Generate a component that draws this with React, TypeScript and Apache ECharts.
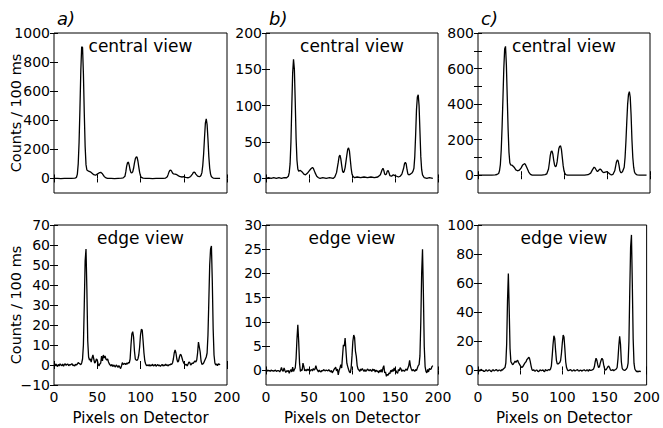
import React, { useEffect, useRef } from "react";
import * as echarts from "echarts";

// ---------- data ----------
const panelLetters = ["a)", "b)", "c)"];
const topTitle = "central view";
const bottomTitle = "edge view";
const yAxisTitle = "Counts / 100 ms";
const xAxisTitle = "Pixels on Detector";

const xTicks = [0, 50, 100, 150, 200];

const centralA: number[][] = [
  [0,0],[4,1],[8,-1],[12,0],[16,1],[20,0],[24,2],[25,4],[26,8],[27,30],[28,100],[29,250],[30,480],[31,740],[32,905],[33,900],[34,720],[35,450],[36,220],[37,95],[38,58],[40,50],[42,46],[44,36],[46,26],[48,22],[50,30],[52,38],[54,42],[56,32],[58,14],[60,4],[62,1],[66,0],[70,-1],[74,1],[78,2],[80,4],[82,15],[83,45],[84,85],[85,108],[86,112],[87,90],[88,58],[89,40],[90,38],[91,45],[92,70],[93,105],[94,135],[95,148],[96,146],[97,120],[98,80],[99,42],[100,18],[101,7],[103,2],[106,0],[110,1],[114,-1],[118,0],[122,1],[126,0],[129,3],[131,12],[132,28],[133,45],[134,55],[135,57],[136,50],[137,38],[138,32],[140,30],[142,26],[144,18],[146,12],[148,10],[150,12],[152,8],[154,5],[156,6],[158,14],[160,30],[161,40],[162,43],[163,40],[164,30],[166,16],[168,12],[169,14],[170,22],[171,40],[172,90],[173,170],[174,280],[175,380],[176,409],[177,370],[178,270],[179,150],[180,70],[181,30],[182,12],[184,3],[187,0],[192,0]
];

const centralB: number[][] = [
  [0,0],[3,1],[6,0],[9,1],[12,0],[15,1],[18,0],[21,1],[24,1],[26,3],[27,8],[28,20],[29,50],[30,100],[31,145],[32,164],[33,150],[34,105],[35,55],[36,25],[37,13],[38,10],[40,11],[42,9],[44,6],[46,5],[48,7],[50,10],[52,13],[54,15],[55,14],[57,8],[59,3],[61,1],[63,0],[66,1],[70,0],[74,1],[78,0],[80,2],[82,8],[84,22],[85,30],[86,32],[87,27],[88,18],[89,10],[90,8],[91,10],[92,15],[94,32],[95,40],[96,42],[97,38],[98,26],[99,14],[100,6],[101,3],[103,1],[106,2],[110,1],[114,2],[118,1],[122,2],[126,1],[130,2],[133,5],[135,12],[136,14],[137,11],[138,6],[139,5],[140,6],[141,10],[142,11],[143,8],[144,4],[146,3],[148,5],[150,4],[152,3],[154,2],[156,3],[158,6],[160,14],[161,20],[162,22],[163,20],[164,12],[165,6],[166,5],[168,6],[170,8],[171,10],[172,14],[173,30],[174,60],[175,95],[176,112],[177,115],[178,100],[179,65],[180,30],[181,12],[182,5],[184,1],[187,0],[190,1],[194,0]
];

const centralC: number[][] = [
  [0,0],[4,1],[8,0],[12,1],[16,0],[20,2],[22,4],[24,10],[25,25],[26,60],[27,140],[28,270],[29,430],[30,600],[31,710],[32,725],[33,620],[34,440],[35,260],[36,130],[37,70],[38,58],[40,55],[42,45],[44,30],[46,25],[48,28],[50,40],[52,58],[54,65],[55,62],[57,40],[59,18],[61,5],[63,1],[66,0],[70,1],[74,0],[78,3],[80,8],[82,35],[83,70],[84,110],[85,132],[86,137],[87,120],[88,85],[89,58],[90,48],[91,52],[92,75],[93,115],[94,150],[95,163],[96,165],[97,145],[98,100],[99,55],[100,25],[101,10],[102,4],[104,1],[108,0],[112,1],[116,0],[120,1],[124,0],[128,3],[131,12],[133,30],[135,45],[136,42],[138,25],[139,20],[140,26],[142,35],[143,32],[145,18],[146,15],[148,18],[150,20],[152,12],[154,4],[155,2],[157,5],[159,25],[160,50],[161,75],[162,86],[163,80],[164,55],[165,25],[166,15],[167,15],[168,20],[170,45],[171,100],[172,190],[173,300],[174,400],[175,455],[176,470],[177,440],[178,340],[179,200],[180,100],[181,45],[182,18],[183,8],[185,2],[188,0],[192,1],[196,0]
];

// edge views: one value per detector pixel, starting at pixel 0
const edgeA: number[] = [
  0,-0.5,0.5,0,-0.8,0.3,-0.5,0.6,0,-0.3,
  0.5,-0.6,0.2,0.6,-0.2,0.3,0.5,-0.4,0.2,0,
  0.4,0.6,-0.3,0,-0.5,0.3,0,0.5,1.2,0.8,
  0.5,0.2,1,3,10,30,52,58,38,12,
  4,2.5,3,1.5,3.5,5,3,1,1.5,3,
  2.5,0.5,-0.5,0.5,1,4.5,2,5,3.5,4.5,
  3,2.5,3,1.5,0.5,0,-0.5,0.3,-0.8,0,
  -0.5,-1,0,-0.5,-1.2,-0.3,-1,-1.8,-0.5,1.2,
  0.3,0.6,0.8,0.2,1,0.5,1.2,1,3,10,
  15.5,16.7,14,7,3,2.5,2.3,3,5,9,
  15,17.8,17.5,12,6,2,0.5,-0.3,0,-0.4,
  0.2,-0.6,0,-0.3,0.4,-0.5,-0.2,0.3,-0.6,-0.1,
  0.2,-0.4,0,-0.7,-0.2,0.3,-0.5,0,-0.3,0.4,
  -0.2,0.1,-0.5,0.2,0,0.5,0.3,1,3,6,
  7.5,6,3,1.5,2,4,5.3,5,3.5,2,
  1,0.5,0,0.3,-0.5,0.5,1.5,1.2,0,0.5,
  1,0.8,1.5,2,1.5,2.5,6,11.5,9,6.5,
  2,0.3,0.5,1,2,3,4,6,15,32,
  50,58,59.5,42,18,5,1,0,0.5,-0.3,
  0.6,0.2,0.5
];

const edgeB: number[] = [
  0,-0.2,0.1,-0.1,0,-0.2,0.1,-0.1,0,-0.2,
  0,0.1,-0.2,-0.1,0,-0.1,-0.3,0.1,0.6,0,
  -0.2,0.5,0,-0.4,-0.1,-0.2,0,-0.6,-0.1,0.2,
  -0.3,0.7,-0.2,0.2,0.5,2.5,6.5,9.4,6,1.5,
  -0.2,0.2,0,1.5,0.8,-0.1,0.2,-0.1,0.3,0,
  0.3,-0.2,0.1,0.2,-0.1,0.4,0.1,0.3,1,0.3,
  0,-0.3,0.1,-0.2,-0.3,0,-0.1,0.2,0,-0.1,
  0.1,0,-0.1,0.2,-0.1,-0.3,0,-0.5,-0.2,0.2,
  0.4,0.7,-0.1,0.3,-0.9,0,0.5,1.2,0.5,3,
  5.3,5,6.7,4,1.5,0.8,0.2,-0.3,-0.5,0.5,
  3,6,7.3,6.8,4,2.9,1,0.3,0.1,-0.2,
  0.3,0,0.4,0.1,-0.2,0.2,-0.2,0,0.3,0.1,
  -0.1,0.2,0,-0.2,0.3,0,0.2,-0.3,0.1,-0.2,
  -0.1,-0.5,0,-0.3,0.2,-0.4,0.5,1,-0.5,-0.3,
  -1.2,-0.8,-1,-0.5,-0.7,0,-0.3,0.2,-0.2,0.5,
  -0.1,0,-0.4,-0.6,0.2,-0.1,0.6,0.3,-0.2,0.1,
  0,-0.2,0.1,0.3,0,0.5,1,2.1,0.8,0.3,
  -0.1,0.2,0,-0.2,0.2,0,0.5,1,1.2,3,
  10,20,25,16,5,0.8,-0.2,-0.5,0.2,-0.3,
  0.4,0.2,0.3,0.8,1
];

const edgeC: number[] = [
  0,0.6,-0.5,0.3,0.8,-0.2,0,-0.7,-0.6,0.2,
  0.5,-0.4,-0.2,0.4,0.3,-0.5,-0.8,0.2,0.5,-0.3,
  0,0.4,0.6,-0.2,-0.3,0.3,0.2,-0.4,0.5,0.3,
  1,1.5,2,5,18,48,66.6,42,15,6,
  5,4,4.5,5.5,6.5,5.5,6.5,7,5.5,4.5,
  3.5,2.5,2,2.5,3.5,4.5,5.5,6,7.5,8,
  9,8.5,6,3,0.5,0,0.6,-0.3,-0.5,0.2,
  0.3,-0.6,-0.8,0.1,0.4,-0.2,0,0.5,-0.5,-0.9,
  0.6,0.2,-0.2,0.4,0.5,0.3,1,3,10,18,
  23.9,22,14,7,4.5,4.5,5,5.5,7,12,
  19,24.3,23,15,6,2,0.5,-0.2,0,0.4,
  0.5,-0.3,-0.3,0.2,0.4,-0.4,0,0.3,0.6,-0.2,
  -0.4,0.1,0.3,-0.5,0,0.2,0.5,-0.1,-0.3,0.4,
  0.2,-0.6,0.6,0.1,0,0.3,0.5,1,2.5,6,
  8.4,7,4,2,2.5,5,7,8.4,7.5,4,
  1.5,0.3,0.5,1.5,2.5,3,2,0.5,0,0.3,
  0.5,-0.2,0.3,0.6,1,2,8,17,23.4,18,
  6,1.5,0.5,0.3,0,0.5,1,2,5,20,
  55,85,93.2,60,22,5,1,0,-0.8,-0.5,
  -1,-0.3,-0.8,-0.5
];

// y-axis ranges, tick positions and labelled values
const yMinTop = [-100, -20, -100];
const yMaxTop = [1000, 200, 800];
const yTicksTop = [
  [0, 200, 400, 600, 800, 1000],
  [0, 50, 100, 150, 200],
  [0, 100, 200, 300, 400, 500, 600, 700, 800],
];
const yLabelsTop = [
  [0, 200, 400, 600, 800, 1000],
  [0, 50, 100, 150, 200],
  [0, 200, 400, 600, 800],
];
const yMinBottom = [-10, -3, -10];
const yMaxBottom = [70, 30, 100];
const yTicksBottom = [
  [-10, 0, 10, 20, 30, 40, 50, 60, 70],
  [0, 5, 10, 15, 20, 25, 30],
  [0, 20, 40, 60, 80, 100],
];
const yLabelsBottom = yTicksBottom;

// ---------- layout ----------
const FONT = "DejaVu Sans";
const colLeft = [54, 266, 478];
const colWidth = [173, 172, 172];
const rowTop = [33, 225];
const plotH = 160;

export default function App() {
  const ref = useRef<HTMLDivElement>(null);

  useEffect(() => {
    if (!ref.current) return;
    const chart = echarts.init(ref.current, undefined, { renderer: "svg" });

    const fmt = (v: number) => (v < 0 ? "\u2212" + Math.abs(v) : String(v));

    const grids: any[] = [];
    const xAxes: any[] = [];
    const yAxes: any[] = [];
    const series: any[] = [];

    const seriesData = [
      centralA,
      centralB,
      centralC,
      edgeA.map((v, i) => [i, v]),
      edgeB.map((v, i) => [i, v]),
      edgeC.map((v, i) => [i, v]),
    ];

    for (let r = 0; r < 2; r++) {
      for (let c = 0; c < 3; c++) {
        const k = r * 3 + c;
        grids.push({
          left: colLeft[c],
          top: rowTop[r],
          width: colWidth[c],
          height: plotH,
          show: true,
          borderColor: "#000",
          borderWidth: 1,
          backgroundColor: "transparent",
        });
        const tickStyle = { show: true, inside: true, length: 4, lineStyle: { color: "#000", width: 1 } };
        // bottom x axis
        xAxes.push({
          type: "value",
          gridIndex: k,
          position: "bottom",
          min: 0,
          max: 200,
          axisLine: { show: false },
          splitLine: { show: false },
          axisTick: { ...tickStyle, customValues: xTicks },
          axisLabel: {
            show: r === 1,
            customValues: xTicks,
            fontFamily: FONT,
            fontSize: 14,
            color: "#000",
            margin: 5,
          },
        });
        // top x axis (ticks only)
        xAxes.push({
          type: "value",
          gridIndex: k,
          position: "top",
          min: 0,
          max: 200,
          axisLine: { show: false },
          splitLine: { show: false },
          axisTick: { ...tickStyle, customValues: xTicks },
          axisLabel: { show: false },
        });
        const ymin = r === 0 ? yMinTop[c] : yMinBottom[c];
        const ymax = r === 0 ? yMaxTop[c] : yMaxBottom[c];
        const yt = r === 0 ? yTicksTop[c] : yTicksBottom[c];
        const yl = r === 0 ? yLabelsTop[c] : yLabelsBottom[c];
        yAxes.push({
          type: "value",
          gridIndex: k,
          position: "left",
          min: ymin,
          max: ymax,
          axisLine: { show: false },
          splitLine: { show: false },
          axisTick: { ...tickStyle, customValues: yt },
          axisLabel: {
            customValues: yl,
            formatter: fmt,
            fontFamily: FONT,
            fontSize: 14,
            color: "#000",
            margin: 4,
          },
        });
        yAxes.push({
          type: "value",
          gridIndex: k,
          position: "right",
          min: ymin,
          max: ymax,
          axisLine: { show: false },
          splitLine: { show: false },
          axisTick: { ...tickStyle, customValues: yt },
          axisLabel: { show: false },
        });
        series.push({
          type: "line",
          xAxisIndex: 2 * k,
          yAxisIndex: 2 * k,
          data: seriesData[k],
          showSymbol: false,
          symbol: "none",
          clip: true,
          lineStyle: { color: "#000", width: 1.3 },
          silent: true,
        });
      }
    }

    const graphics: any[] = [];
    for (let c = 0; c < 3; c++) {
      const cx = colLeft[c] + colWidth[c] / 2;
      graphics.push({
        type: "text",
        x: colLeft[c] + 3,
        y: 18,
        style: {
          text: panelLetters[c],
          font: `italic 18px "${FONT}"`,
          fill: "#000",
          align: "left",
          verticalAlign: "middle",
        },
      });
      graphics.push({
        type: "text",
        x: cx,
        y: rowTop[0] + 13,
        style: {
          text: topTitle,
          font: `17px "${FONT}"`,
          fill: "#000",
          align: "center",
          verticalAlign: "middle",
        },
      });
      graphics.push({
        type: "text",
        x: cx,
        y: rowTop[1] + 13,
        style: {
          text: bottomTitle,
          font: `17px "${FONT}"`,
          fill: "#000",
          align: "center",
          verticalAlign: "middle",
        },
      });
      graphics.push({
        type: "text",
        x: cx,
        y: 418,
        style: {
          text: xAxisTitle,
          font: `15px "${FONT}"`,
          fill: "#000",
          align: "center",
          verticalAlign: "middle",
        },
      });
    }
    for (let r = 0; r < 2; r++) {
      graphics.push({
        type: "text",
        x: 16,
        y: rowTop[r] + plotH / 2,
        rotation: Math.PI / 2,
        style: {
          text: yAxisTitle,
          font: `14.5px "${FONT}"`,
          fill: "#000",
          align: "center",
          verticalAlign: "middle",
        },
      });
    }

    chart.setOption({
      animation: false,
      backgroundColor: "#fff",
      grid: grids,
      xAxis: xAxes,
      yAxis: yAxes,
      series,
      graphic: graphics,
    });

    return () => chart.dispose();
  }, []);

  return (
    <div
      ref={ref}
      style={{ position: "fixed", left: 0, top: 0, width: 663, height: 428, background: "#fff" }}
    />
  );
}
